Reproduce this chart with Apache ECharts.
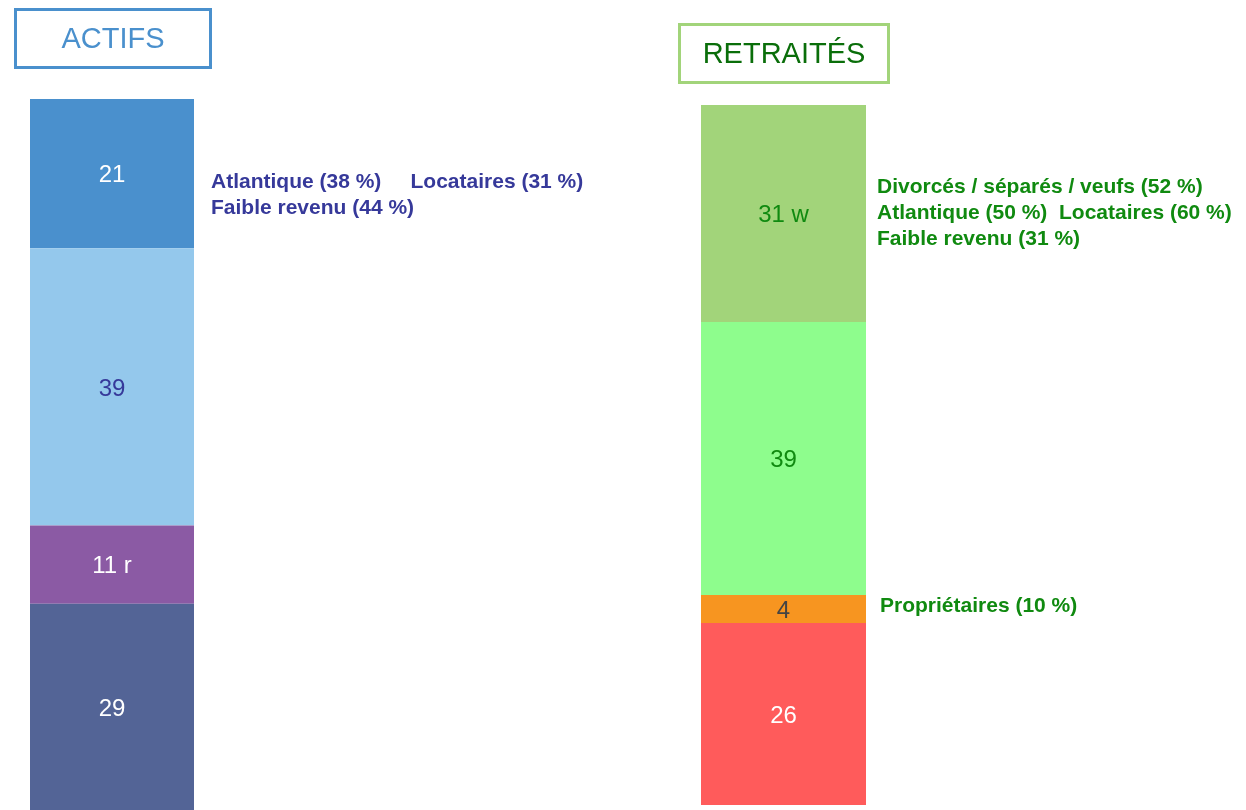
<!DOCTYPE html>
<html>
<head>
<meta charset="utf-8">
<script src="https://cdn.jsdelivr.net/npm/echarts@6/dist/echarts.min.js"></script>
<style>
  html, body { margin: 0; padding: 0; background: #fff; }
  #chart { width: 1246px; height: 810px; }
</style>
</head>
<body>
<div id="chart"></div>
<script>
// données (du haut vers le bas de chaque barre)
var actifsValues = [21, 39, 11, 29];
var actifsLabels = ['21', '39', '11 r', '29'];
var actifsColors = ['#4a90cd', '#94c8ec', '#8b5aa4', '#536496'];
var actifsLabelColors = ['#ffffff', '#36399a', '#ffffff', '#ffffff'];

var retraitesValues = [31, 39, 4, 26];
var retraitesLabels = ['31 w', '39', '4', '26'];
var retraitesColors = ['#a2d47a', '#8efd8d', '#f79520', '#ff5b5b'];
var retraitesLabelColors = ['#108a10', '#108a10', '#444444', '#ffffff'];

var actifsNotes = ['Atlantique (38 %)     Locataires (31 %)', 'Faible revenu (44 %)'];
var retraitesNotes = ['Divorcés / séparés / veufs (52 %)', 'Atlantique (50 %)  Locataires (60 %)', 'Faible revenu (31 %)'];
var retraitesNote2 = 'Propriétaires (10 %)';

var chart = echarts.init(document.getElementById('chart'));

function makeSeries(values, labels, colors, labelColors, axisIndex, stackName) {
    return values.map(function (v, i) {
        return {
            type: 'bar',
            stack: stackName,
            xAxisIndex: axisIndex,
            yAxisIndex: axisIndex,
            barWidth: '100%',
            data: [v],
            itemStyle: { color: colors[i] },
            label: {
                show: true,
                position: 'inside',
                offset: [0, 2],
                formatter: labels[i],
                color: labelColors[i],
                fontFamily: 'Liberation Sans',
                fontSize: 24
            },
            emphasis: { disabled: true },
            silent: true
        };
    });
}

var series = makeSeries(actifsValues, actifsLabels, actifsColors, actifsLabelColors, 0, 'actifs')
    .concat(makeSeries(retraitesValues, retraitesLabels, retraitesColors, retraitesLabelColors, 1, 'retraites'));

function titleBox(x, y, w, h, text, border, color) {
    return {
        type: 'group',
        left: x,
        top: y,
        children: [
            { type: 'rect', shape: { x: 0, y: 0, width: w, height: h },
              style: { fill: '#fff', stroke: border, lineWidth: 3 } },
            { type: 'text', x: w / 2, y: h / 2 + 1,
              style: { text: text, fill: color, font: '29px "Liberation Sans"',
                       align: 'center', verticalAlign: 'middle' } }
        ]
    };
}

function notes(x, y, lines, color) {
    return {
        type: 'text',
        left: x,
        top: y,
        style: {
            text: lines.join('\n'),
            fill: color,
            font: 'bold 21px "Liberation Sans"',
            lineHeight: 26
        }
    };
}

var option = {
    animation: false,
    grid: [
        { left: 30, top: 99, width: 164, height: 717 },
        { left: 701, top: 105, width: 165, height: 700 }
    ],
    xAxis: [
        { type: 'category', gridIndex: 0, data: ['Actifs'], show: false },
        { type: 'category', gridIndex: 1, data: ['Retraités'], show: false }
    ],
    yAxis: [
        { type: 'value', gridIndex: 0, min: 0, max: 100, inverse: true, show: false },
        { type: 'value', gridIndex: 1, min: 0, max: 100, inverse: true, show: false }
    ],
    series: series,
    graphic: [
        titleBox(14, 8, 195, 58, 'ACTIFS', '#4a90cd', '#4a90cd'),
        titleBox(678, 23, 209, 58, 'RETRAITÉS', '#a2d47a', '#0a6e0a'),
        notes(211, 169, actifsNotes, '#36399a'),
        notes(877, 174, retraitesNotes, '#108a10'),
        notes(880, 593, [retraitesNote2], '#108a10')
    ]
};

chart.setOption(option);
</script>
</body>
</html>
